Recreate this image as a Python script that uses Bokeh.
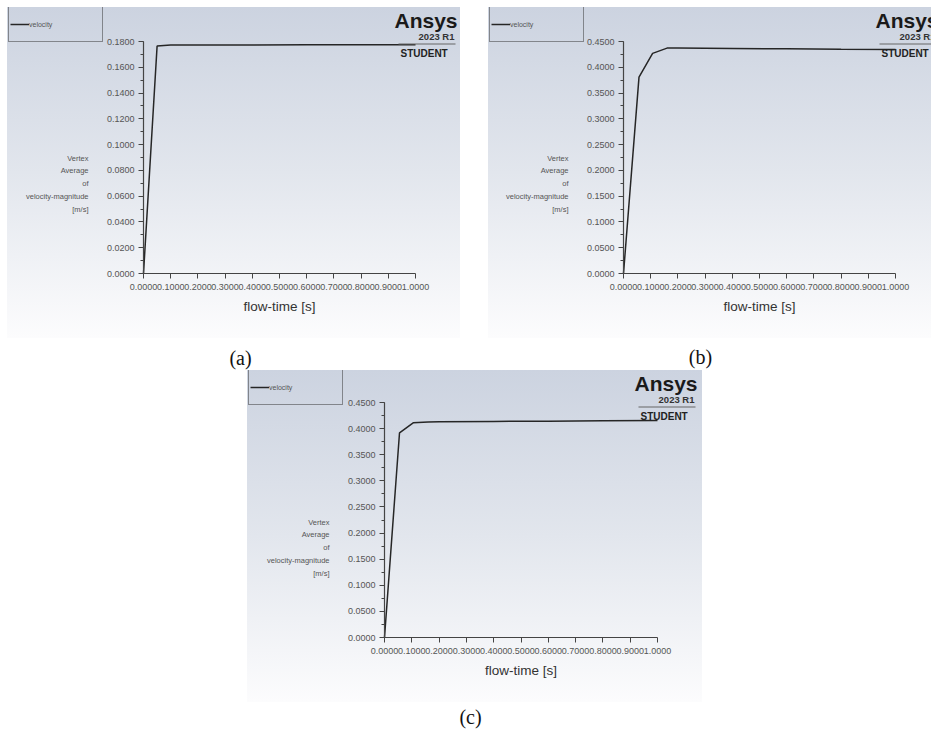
from bokeh.plotting import figure
from bokeh.models import (Range1d, SingleIntervalTicker, PrintfTickFormatter, Label,
                          BoxAnnotation, Spacer)
from bokeh.layouts import row, column
from bokeh.embed import file_html
from bokeh.resources import INLINE

# ---------------- data ----------------
series_name = "velocity"
x_title = "flow-time [s]"
y_title_lines = ["Vertex", "Average", "of", "velocity-magnitude", "[m/s]"]
panel_letters = ["(a)", "(b)", "(c)"]

time_a = [0.0, 0.05, 0.1, 0.2, 0.4, 0.6, 0.8, 1.0]
vel_a = [0.0, 0.1765, 0.1772, 0.1773, 0.1773, 0.1774, 0.1774, 0.1774]

time_b = [0.0, 0.057, 0.107, 0.16, 0.2, 0.4, 0.6, 0.8, 1.0]
vel_b = [0.0, 0.381, 0.427, 0.4372, 0.4372, 0.4365, 0.4358, 0.4350, 0.4343]

time_c = [0.0, 0.055, 0.105, 0.16, 0.2, 0.4, 0.6, 0.8, 1.0]
vel_c = [0.0, 0.392, 0.411, 0.4125, 0.4130, 0.4137, 0.4143, 0.4150, 0.4155]

x_max = 1.0
ymax_a, ytick_a = 0.18, 0.02
ymax_bc, ytick_bc = 0.45, 0.05

SANS = "Liberation Sans"
SERIF = "Liberation Serif"
GRAD = "linear-gradient(180deg, #ccd3e0 0%, #e2e6ed 50%, #fcfcfd 100%)"


def panel(W, H, left, right, top, bottom, ymax, yint, t, v):
    # the frame fills the whole panel; the axes sit at data 0 (fixed_location)
    fw = W - left - right
    fh = H - top - bottom
    xppu = fw / x_max
    yppu = fh / ymax
    p = figure(width=W, height=H,
               x_range=Range1d(-left / xppu, x_max + right / xppu),
               y_range=Range1d(-bottom / yppu, ymax + top / yppu),
               output_backend="svg", toolbar_location=None, min_border=0)
    p.background_fill_alpha = 0
    p.border_fill_alpha = 0
    p.outline_line_color = None
    p.styles = {"background": GRAD}
    p.grid.visible = False

    p.line(t, v, line_color="#262626", line_width=1.5, legend_label=series_name)

    xa = p.xaxis[0]
    xa.ticker = SingleIntervalTicker(interval=0.1, num_minor_ticks=0)
    xa.formatter = PrintfTickFormatter(format="%.4f")
    xa.fixed_location = 0
    xa.bounds = (0, x_max)
    ya = p.yaxis[0]
    ya.ticker = SingleIntervalTicker(interval=yint, num_minor_ticks=2)
    ya.formatter = PrintfTickFormatter(format="%.4f")
    ya.fixed_location = 0
    ya.bounds = (0, ymax)
    for ax in (xa, ya):
        ax.axis_line_color = "#444444"
        ax.axis_line_width = 1.2
        ax.major_tick_line_color = "#444444"
        ax.minor_tick_line_color = "#444444"
        ax.major_tick_in = 0
        ax.major_tick_out = 5
        ax.minor_tick_in = 0
        ax.minor_tick_out = 3
        ax.major_label_text_font = SANS
        ax.major_label_text_font_size = "9px"
        ax.major_label_text_color = "#555555"
    xa.major_label_standoff = 5
    ya.major_label_standoff = 4
    xa.axis_label = x_title
    xa.axis_label_text_font = SANS
    xa.axis_label_text_font_style = "normal"
    xa.axis_label_text_font_size = "13.5px"
    xa.axis_label_text_color = "#333333"
    xa.axis_label_standoff = 6

    fb = H - bottom  # axis line row, panel-local pixels from top

    def sy(local):
        return H - local

    # multi-line vertical title, right aligned, left of the axis
    offs = [115, 103, 90, 77, 64]
    for txt, o in zip(y_title_lines, offs):
        p.add_layout(Label(x=left - 55, y=sy(fb - o), x_units="screen", y_units="screen",
                           text=txt, text_align="right", text_baseline="middle",
                           text_font=SANS, text_font_size="7.5px", text_color="#555555"))

    # legend box at the upper-left corner
    lg = p.legend[0]
    lg.location = (1, sy(35))
    lg.padding = 1
    lg.margin = 0
    lg.spacing = 0
    lg.glyph_width = 19
    lg.glyph_height = 32
    lg.label_height = 32
    lg.label_width = 72
    lg.label_standoff = 0
    lg.border_line_color = "#333333"
    lg.border_line_width = 1.3
    lg.background_fill_alpha = 0
    lg.label_text_font = SANS
    lg.label_text_font_size = "7px"
    lg.label_text_color = "#555555"

    # Ansys watermark
    p.add_layout(Label(x=450, y=sy(12.5), x_units="screen", y_units="screen", text="Ansys",
                       text_align="right", text_baseline="middle", text_font=SANS,
                       text_font_style="bold", text_font_size="21px", text_color="#1a1a1a"))
    p.add_layout(Label(x=447, y=sy(29.3), x_units="screen", y_units="screen", text="2023 R1",
                       text_align="right", text_baseline="middle", text_font=SANS,
                       text_font_style="bold", text_font_size="9.5px", text_color="#333333"))
    p.add_layout(BoxAnnotation(left=391, right=448, top=sy(36), bottom=sy(37),
                               left_units="screen", right_units="screen",
                               top_units="screen", bottom_units="screen",
                               fill_color="#666666", fill_alpha=1, line_color=None))
    p.add_layout(Label(x=393, y=sy(45.7), x_units="screen", y_units="screen", text="STUDENT",
                       text_align="left", text_baseline="middle", text_font=SANS,
                       text_font_style="bold", text_font_size="10px", text_color="#222222"))
    return p


pa = panel(453, 331, 136, 45, 34, 65, ymax_a, ytick_a, time_a, vel_a)
pb = panel(443, 331, 135, 36, 34, 65, ymax_bc, ytick_bc, time_b, vel_b)
pc = panel(455, 332, 137, 45, 32, 65, ymax_bc, ytick_bc, time_c, vel_c)


def label_strip(W, H, items):
    f = figure(width=W, height=H, x_range=Range1d(0, W), y_range=Range1d(0, H),
               output_backend="svg", toolbar_location=None, min_border=0)
    f.axis.visible = False
    f.grid.visible = False
    f.outline_line_color = None
    for txt, xx, yy in items:
        f.add_layout(Label(x=xx, y=yy, text=txt, text_align="center", text_baseline="middle",
                           text_font=SERIF, text_font_size="20px", text_color="#111111"))
    return f


strip1 = label_strip(931, 32, [(panel_letters[0], 240, 13), (panel_letters[1], 700, 14)])
strip2 = label_strip(931, 31, [(panel_letters[2], 470, 17)])

layout = column(
    Spacer(width=931, height=7),
    row(Spacer(width=7, height=331), pa, Spacer(width=28, height=331), pb),
    strip1,
    row(Spacer(width=247, height=332), pc, Spacer(width=229, height=332)),
    strip2,
)

open("out.html", "w").write(file_html(layout, INLINE))
